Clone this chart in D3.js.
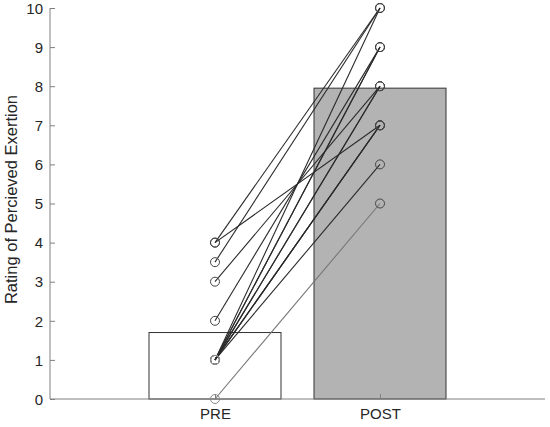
<!DOCTYPE html>
<html>
<head>
<meta charset="utf-8">
<script src="https://cdn.jsdelivr.net/npm/d3@7"></script>
<style>
  body { margin: 0; background: #fff; }
  text { font-family: "Liberation Sans", Arial, sans-serif; fill: #262626; }
</style>
</head>
<body>
<svg id="chart"></svg>
<script>
var groups = ["PRE", "POST"];
var means = [1.7, 7.95];
// one entry per participant, pre and post rating
var preRating  = [0, 1, 4, 4, 3.5, 3, 2, 1, 1, 1, 1, 1, 1, 1, 1];
var postRating = [5, 6, 7, 10, 10, 8, 9, 10, 9, 9, 8, 8, 7, 7, 7];
var yTicks = [0, 1, 2, 3, 4, 5, 6, 7, 8, 9, 10];

var width = 550,
    height = 427,
    margin = {top: 8, right: 3, bottom: 28, left: 50};

var chart = d3.select("#chart")
    .attr("width", width)
    .attr("height", height);

var x = d3.scaleLinear()
    .domain([0, 3])
    .range([margin.left, width - margin.right - 2]);

var y = d3.scaleLinear()
    .domain([0, 10])
    .range([height - margin.bottom, margin.top]);

var barW = x(0.8) - x(0);

// bars
chart.append("g")
    .selectAll("rect")
    .data(means)
    .enter().append("rect")
    .attr("x", function(d, i) { return x(i + 1) - barW / 2; })
    .attr("y", function(d) { return y(d); })
    .attr("width", barW)
    .attr("height", function(d) { return y(0) - y(d); })
    .style("fill", function(d, i) { return i == 0 ? "#fff" : "#b3b3b3"; })
    .style("stroke", "#333")
    .style("stroke-width", 1);

// axes
var yAxis = chart.append("g")
    .attr("transform", "translate(" + x(0) + ",0)")
    .call(d3.axisRight(y).tickValues(yTicks).tickSize(5).tickFormat(""));
yAxis.select(".domain").attr("d", "M0," + y(0) + "V" + y(10));

yAxis.selectAll(".tick")
    .append("text")
    .attr("x", -7)
    .attr("dy", "0.35em")
    .attr("text-anchor", "end")
    .style("font-size", "15px")
    .text(function(d) { return d; });

var xAxis = chart.append("g")
    .attr("transform", "translate(0," + y(0) + ")")
    .call(d3.axisTop(x).tickValues([1, 2]).tickSize(5).tickFormat(""));
xAxis.select(".domain").attr("d", "M" + x(0) + ",0H" + x(3));

xAxis.selectAll(".tick")
    .append("text")
    .attr("y", 20)
    .attr("text-anchor", "middle")
    .style("font-size", "15px")
    .text(function(d) { return groups[d - 1]; });

chart.selectAll(".domain, .tick line")
    .style("stroke", "#808080");

chart.append("text")
    .attr("transform", "translate(17," + (y(5) - 4) + ") rotate(-90)")
    .attr("text-anchor", "middle")
    .style("font-size", "16.5px")
    .text("Rating of Percieved Exertion");

// paired lines
var pairs = preRating.map(function(d, i) { return {pre: d, post: postRating[i]}; });

chart.append("g")
    .selectAll("line")
    .data(pairs)
    .enter().append("line")
    .attr("x1", x(1))
    .attr("y1", function(d) { return y(d.pre); })
    .attr("x2", x(2))
    .attr("y2", function(d) { return y(d.post); })
    .style("stroke", function(d) { return d.pre == 0 ? "#777" : "#2a2a2a"; })
    .style("stroke-width", 1.1);

// markers
var points = [];
pairs.forEach(function(d) {
    points.push({g: 1, v: d.pre});
    points.push({g: 2, v: d.post});
});

chart.append("g")
    .selectAll("circle")
    .data(points)
    .enter().append("circle")
    .attr("cx", function(d) { return x(d.g); })
    .attr("cy", function(d) { return y(d.v); })
    .attr("r", 4.5)
    .style("fill", "none")
    .style("stroke", function(d) { return d.g == 1 && d.v <= 1 ? "#888" : "#444"; })
    .style("stroke-width", 1);
</script>
</body>
</html>
